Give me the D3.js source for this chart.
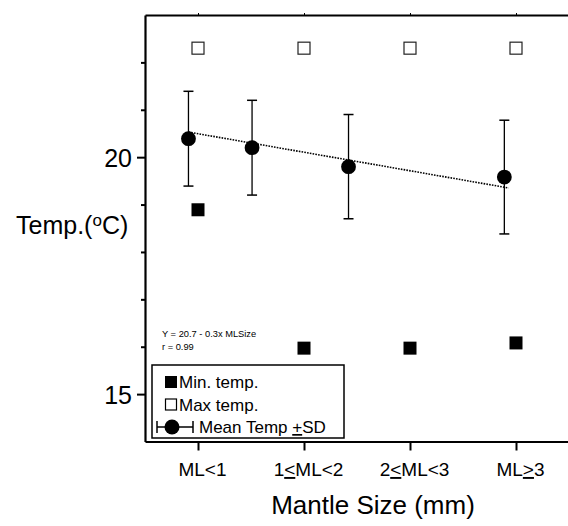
<!DOCTYPE html>
<html>
<head>
<meta charset="utf-8">
<script src="https://cdn.jsdelivr.net/npm/d3@7"></script>
<style>
  body { margin: 0; background: #fff; }
  text { font-family: "Liberation Sans", Arial, sans-serif; fill: #000; }
  .axis path, .axis line { stroke: #000; }
</style>
</head>
<body>
<script>
// categories and values
var catPos = [1, 2, 3, 4],
    catLabels = ["ML<1", "1≤ML<2", "2≤ML<3", "ML≥3"],
    maxTemp = [22.3, 22.3, 22.3, 22.3],
    minTemp = [18.89, 15.97, 15.97, 16.08],
    meanX = [0.91, 1.51, 2.42, 3.89],
    meanTemp = [20.39, 20.2, 19.8, 19.58],
    meanSD = [1.0, 1.0, 1.1, 1.2],
    fitX = [0.91, 3.93],
    fitY = [20.53, 19.35],
    yMajor = [15, 20],
    yMinor = [16, 17, 18, 19, 21, 22],
    equation = ["Y = 20.7 - 0.3x MLSize", "r = 0.99"],
    legendItems = ["Min. temp.", "Max temp.", "Mean Temp ±SD"]

var W = 568, H = 526

var svg = d3.select("body").append("svg")
    .attr("width", W)
    .attr("height", H)

var x = d3.scaleLinear().domain([0.5, 4.5]).range([145, 569])
var y = d3.scaleLinear().domain([14, 23]).range([441.5, 15])

// writes a label, turning ≤ ≥ ± into underlined < > +
function richText(sel, str) {
  var parts = str.split(/([≤≥±])/)
  var map = { "≤": "<", "≥": ">", "±": "+" }
  parts.forEach(function(p) {
    if (p === "") return
    if (map[p]) {
      sel.append("tspan").attr("text-decoration", "underline").text(map[p])
    } else {
      sel.append("tspan").text(p)
    }
  })
}

// left axis, minor then major ticks
svg.append("g")
    .attr("class", "axis")
    .attr("transform", "translate(145,0)")
    .call(d3.axisLeft(y).tickValues(yMinor).tickSize(4).tickSizeOuter(0).tickFormat(""))
    .call(function(g) { g.selectAll("line").attr("stroke-width", 2) })
    .call(function(g) { g.select(".domain").attr("stroke-width", 2.2) })

svg.append("g")
    .attr("class", "axis")
    .attr("transform", "translate(145,0)")
    .call(d3.axisLeft(y).tickValues(yMajor).tickSize(8).tickPadding(5).tickSizeOuter(0).tickFormat(d3.format("d")))
    .call(function(g) { g.select(".domain").remove() })
    .call(function(g) { g.selectAll("line").attr("stroke-width", 2) })
    .call(function(g) { g.selectAll("text").attr("font-size", 25).attr("font-family", null).attr("dy", "0.36em") })

// bottom axis
var xAxis = svg.append("g")
    .attr("class", "axis")
    .attr("transform", "translate(0," + y(14) + ")")
    .call(d3.axisBottom(x).tickValues(catPos).tickSize(9).tickSizeOuter(0).tickPadding(12)
      .tickFormat(function(d, i) { return "" }))
xAxis.select(".domain").attr("stroke-width", 2.2)
xAxis.selectAll("line").attr("stroke-width", 2)
xAxis.selectAll(".tick text")
    .attr("font-size", 19)
    .attr("font-family", null)
    .attr("dx", 4)
    .each(function(d, i) { richText(d3.select(this), catLabels[i]) })

// top axis
var topAxis = svg.append("g")
    .attr("class", "axis")
    .attr("transform", "translate(0," + y(23) + ")")
    .call(d3.axisTop(x).tickValues(catPos).tickSize(2).tickSizeOuter(0).tickFormat(""))
topAxis.select(".domain").attr("stroke-width", 2.2)
topAxis.selectAll("line").attr("stroke-width", 1)

// axis titles
var yTitle = svg.append("text")
    .attr("x", 16)
    .attr("y", 234)
    .attr("font-size", 25)
yTitle.append("tspan").text("Temp.(")
yTitle.append("tspan").attr("font-size", 17).attr("dy", -8).text("o")
yTitle.append("tspan").attr("dy", 8).text("C)")

svg.append("text")
    .attr("x", 373)
    .attr("y", 514)
    .attr("text-anchor", "middle")
    .attr("font-size", 26)
    .text("Mantle Size (mm)")

// regression line
svg.append("line")
    .attr("x1", x(fitX[0])).attr("y1", y(fitY[0]))
    .attr("x2", x(fitX[1])).attr("y2", y(fitY[1]))
    .attr("stroke", "#000")
    .attr("stroke-width", 1.6)
    .attr("stroke-dasharray", "1.6,1.2")

// equation text
svg.selectAll(".eq")
    .data(equation)
    .enter().append("text")
    .attr("class", "eq")
    .attr("x", 162)
    .attr("y", function(d, i) { return 337 + i * 12.5 })
    .attr("font-size", 9.3)
    .text(function(d) { return d })

// max temp (open squares)
var sq = 13
svg.selectAll(".maxT")
    .data(maxTemp)
    .enter().append("rect")
    .attr("class", "maxT")
    .attr("x", function(d, i) { return x(catPos[i]) - sq / 2 + 0.5 })
    .attr("y", function(d) { return y(d) - sq / 2 + 0.5 })
    .attr("width", sq - 1)
    .attr("height", sq - 1)
    .attr("fill", "#fff")
    .attr("stroke", "#222")
    .attr("stroke-width", 1.2)

// min temp (filled squares)
svg.selectAll(".minT")
    .data(minTemp)
    .enter().append("rect")
    .attr("class", "minT")
    .attr("x", function(d, i) { return x(catPos[i]) - sq / 2 })
    .attr("y", function(d) { return y(d) - sq / 2 })
    .attr("width", sq)
    .attr("height", sq)
    .attr("fill", "#000")

// mean +- SD
var means = svg.selectAll(".mean")
    .data(meanTemp)
    .enter().append("g")
    .attr("class", "mean")

means.append("line")
    .attr("x1", function(d, i) { return x(meanX[i]) })
    .attr("x2", function(d, i) { return x(meanX[i]) })
    .attr("y1", function(d, i) { return y(d + meanSD[i]) })
    .attr("y2", function(d, i) { return y(d - meanSD[i]) })
    .attr("stroke", "#000").attr("stroke-width", 1.3)

means.selectAll(".cap")
    .data(function(d, i) { return [{ v: d + meanSD[i], i: i }, { v: d - meanSD[i], i: i }] })
    .enter().append("line")
    .attr("class", "cap")
    .attr("x1", function(d) { return x(meanX[d.i]) - 5 })
    .attr("x2", function(d) { return x(meanX[d.i]) + 5 })
    .attr("y1", function(d) { return y(d.v) })
    .attr("y2", function(d) { return y(d.v) })
    .attr("stroke", "#000").attr("stroke-width", 1.5)

means.append("circle")
    .attr("cx", function(d, i) { return x(meanX[i]) })
    .attr("cy", function(d) { return y(d) })
    .attr("r", 7.4)
    .attr("fill", "#000")

// legend
var lg = svg.append("g").attr("transform", "translate(152,365)")
lg.append("rect")
    .attr("x", 0).attr("y", 0)
    .attr("width", 192).attr("height", 73)
    .attr("fill", "#fff")
    .attr("stroke", "#000")
    .attr("stroke-width", 1.5)

var rowY = function(i) { return 23 + i * 22.5 }

lg.append("rect")
    .attr("x", 13).attr("y", rowY(0) - 12)
    .attr("width", 12).attr("height", 12)
    .attr("fill", "#000")
lg.append("rect")
    .attr("x", 13.5).attr("y", rowY(1) - 11.5)
    .attr("width", 11).attr("height", 11)
    .attr("fill", "#fff").attr("stroke", "#000").attr("stroke-width", 1.2)

var ms = lg.append("g").attr("transform", "translate(0," + (rowY(2) - 6) + ")")
ms.append("line").attr("x1", 5).attr("x2", 41).attr("y1", 0).attr("y2", 0)
    .attr("stroke", "#000").attr("stroke-width", 1.3)
ms.selectAll(".lcap").data([5, 41]).enter().append("line")
    .attr("x1", function(d) { return d }).attr("x2", function(d) { return d })
    .attr("y1", -6).attr("y2", 6)
    .attr("stroke", "#000").attr("stroke-width", 1.5)
ms.append("circle").attr("cx", 20).attr("cy", 0).attr("r", 7.5).attr("fill", "#000")

lg.selectAll(".ltext")
    .data(legendItems)
    .enter().append("text")
    .attr("class", "ltext")
    .attr("x", function(d, i) { return i < 2 ? 27 : 47 })
    .attr("y", function(d, i) { return rowY(i) })
    .attr("font-size", 17)
    .each(function(d) { richText(d3.select(this), d) })
</script>
</body>
</html>
